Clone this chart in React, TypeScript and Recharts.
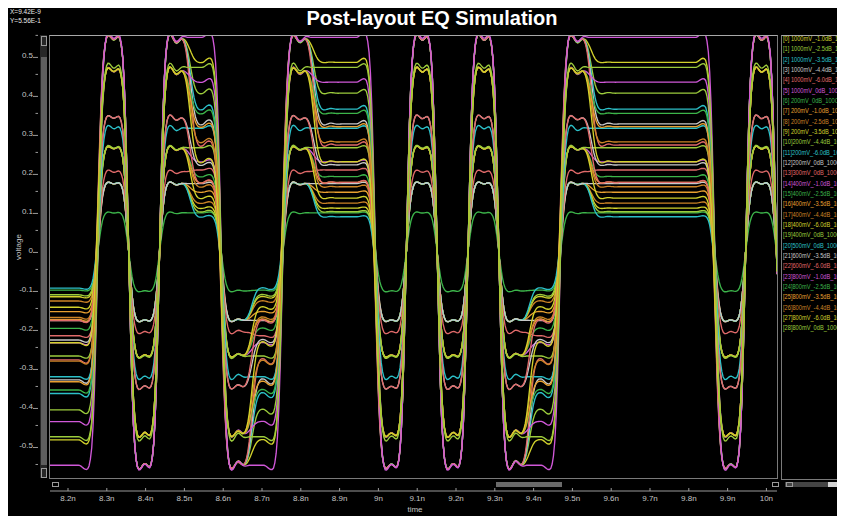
import React from 'react';
import { LineChart, Line, XAxis, YAxis } from 'recharts';

// ---------- data ----------
const SERIES_LABELS = [
  '[0] 1000mV_-1.0dB_100Ohm', '[1] 1000mV_-2.5dB_100Ohm', '[2] 1000mV_-3.5dB_100Ohm',
  '[3] 1000mV_-4.4dB_100Ohm', '[4] 1000mV_-6.0dB_100Ohm', '[5] 1000mV_0dB_100Ohm',
  '[6] 200mV_0dB_100Ohm', '[7] 200mV_-1.0dB_100Ohm', '[8] 200mV_-2.5dB_100Ohm',
  '[9] 200mV_-3.5dB_100Ohm', '[10]200mV_-4.4dB_100Ohm', '[11]200mV_-6.0dB_100Ohm',
  '[12]200mV_0dB_100Ohm', '[13]300mV_0dB_100Ohm', '[14]400mV_-1.0dB_100Ohm',
  '[15]400mV_-2.5dB_100Ohm', '[16]400mV_-3.5dB_100Ohm', '[17]400mV_-4.4dB_100Ohm',
  '[18]400mV_-6.0dB_100Ohm', '[19]400mV_0dB_100Ohm', '[20]500mV_0dB_100Ohm',
  '[21]600mV_-3.5dB_100Ohm', '[22]600mV_-6.0dB_100Ohm', '[23]800mV_-1.0dB_100Ohm',
  '[24]800mV_-2.5dB_100Ohm', '[25]800mV_-3.5dB_100Ohm', '[26]800mV_-4.4dB_100Ohm',
  '[27]800mV_-6.0dB_100Ohm', '[28]800mV_0dB_100Ohm',
];

// the part of each legend entry that is visible in the legend panel
const LEGEND_TEXT = [
  '[0] 1000mV_-1.0dB_100', '[1] 1000mV_-2.5dB_100', '[2] 1000mV_-3.5dB_100',
  '[3] 1000mV_-4.4dB_100', '[4] 1000mV_-6.0dB_100', '[5] 1000mV_0dB_100O',
  '[6] 200mV_0dB_100Oh', '[7] 200mV_-1.0dB_100', '[8] 200mV_-2.5dB_100',
  '[9] 200mV_-3.5dB_100', '[10]200mV_-4.4dB_100', '[11]200mV_-6.0dB_100',
  '[12]200mV_0dB_100Oh', '[13]300mV_0dB_100Oh', '[14]400mV_-1.0dB_100',
  '[15]400mV_-2.5dB_100', '[16]400mV_-3.5dB_100', '[17]400mV_-4.4dB_100',
  '[18]400mV_-6.0dB_100', '[19]400mV_0dB_100Oh', '[20]500mV_0dB_100Oh',
  '[21]600mV_-3.5dB_100', '[22]600mV_-6.0dB_100', '[23]800mV_-1.0dB_100',
  '[24]800mV_-2.5dB_100', '[25]800mV_-3.5dB_100', '[26]800mV_-4.4dB_100',
  '[27]800mV_-6.0dB_100', '[28]800mV_0dB_100Oh',
];

// level (V) in the first UI after a rising transition
const HIGH_PEAK = [
  0.54, 0.54, 0.54, 0.54, 0.54, 0.545,
  0.095, 0.17, 0.17, 0.17, 0.17, 0.17, 0.17,
  0.2, 0.26, 0.26, 0.26, 0.26, 0.26, 0.262,
  0.312, 0.338, 0.338,
  0.458, 0.458, 0.458, 0.458, 0.458, 0.468,
];
// settled high level
const HIGH_STEADY = [
  0.481, 0.402, 0.361, 0.323, 0.269, 0.545,
  0.095, 0.148, 0.12, 0.107, 0.098, 0.085, 0.17,
  0.205, 0.226, 0.188, 0.173, 0.162, 0.133, 0.262,
  0.312, 0.218, 0.173,
  0.43, 0.35, 0.316, 0.277, 0.226, 0.468,
];
// level in the first UI after a falling transition
const LOW_PEAK = [
  -0.55, -0.55, -0.55, -0.55, -0.55, -0.552,
  -0.105, -0.18, -0.18, -0.18, -0.18, -0.18, -0.18,
  -0.21, -0.27, -0.27, -0.27, -0.27, -0.27, -0.272,
  -0.325, -0.35, -0.35,
  -0.47, -0.47, -0.47, -0.47, -0.47, -0.479,
];
// settled low level
const LOW_STEADY = [
  -0.487, -0.41, -0.368, -0.333, -0.282, -0.552,
  -0.103, -0.158, -0.131, -0.12, -0.115, -0.098, -0.181,
  -0.22, -0.238, -0.201, -0.178, -0.173, -0.147, -0.272,
  -0.325, -0.231, -0.181,
  -0.44, -0.359, -0.338, -0.285, -0.238, -0.479,
];

// bit pattern, one entry per unit interval, starting two UIs before the first edge
const BITS = [0, 0, 1, 0, 1, 1, 0, 0, 1, 1, 1, 0, 1, 0, 1, 0, 0, 1, 1, 1, 1, 1, 0, 1, 0];
const FIRST_EDGE_NS = 8.277;
const UI_NS = 0.0795;

// normalized edge response sampled every 0.05 UI from -0.6 UI to +1.0 UI
const STEP_START = -0.6;
const STEP_DU = 0.05;
const STEP_SHAPE = [
  0, -0.002, -0.005, -0.008, -0.01, -0.01, -0.006, 0.01, 0.04, 0.1, 0.2, 0.34,
  0.5, 0.66, 0.8, 0.9, 0.96, 0.995, 1.01, 1.012, 1.008, 1.0, 0.993, 0.99, 0.992,
  0.996, 1.0, 1.002, 1.002, 1.001, 1.0, 1.0, 1.0,
];

const TIME_TICKS = [8.2, 8.3, 8.4, 8.5, 8.6, 8.7, 8.8, 8.9, 9.0, 9.1, 9.2, 9.3, 9.4, 9.5, 9.6, 9.7, 9.8, 9.9, 10.0];
const VOLT_TICKS = [
  -0.55, -0.5, -0.45, -0.4, -0.35, -0.3, -0.25, -0.2, -0.15, -0.1, -0.05, 0,
  0.05, 0.1, 0.15, 0.2, 0.25, 0.3, 0.35, 0.4, 0.45, 0.5, 0.55,
];

const PALETTE = ['#d2d22c', '#9ccc3c', '#2cc0c8', '#c8c8c8', '#e06a6a', '#d058d8', '#3cb44a', '#e8a030', '#cc8426'];

const T_MIN = 8.1536;
const T_MAX = 10.0273;
const V_MIN = -0.618;
const V_MAX = 0.551;

// ---------- build the table the library needs ----------
function stepResponse(u: number): number {
  const idx = (u - STEP_START) / STEP_DU;
  if (idx <= 0) return STEP_SHAPE[0];
  if (idx >= STEP_SHAPE.length - 1) return STEP_SHAPE[STEP_SHAPE.length - 1];
  const i = Math.floor(idx);
  const f = idx - i;
  return STEP_SHAPE[i] * (1 - f) + STEP_SHAPE[i + 1] * f;
}

function levelOf(i: number, s: number): number {
  const b = BITS[i];
  const changed = i > 0 && BITS[i - 1] !== b;
  if (b) return changed ? HIGH_PEAK[s] : HIGH_STEADY[s];
  return changed ? LOW_PEAK[s] : LOW_STEADY[s];
}

function buildRows() {
  const rows: any[] = [];
  const n = 540;
  for (let k = 0; k <= n; k++) {
    const t = T_MIN + ((T_MAX - T_MIN) * k) / n;
    const row: any = { t };
    for (let s = 0; s < SERIES_LABELS.length; s++) {
      let v = levelOf(0, s);
      for (let i = 1; i < BITS.length; i++) {
        const d = levelOf(i, s) - levelOf(i - 1, s);
        if (d === 0) continue;
        const edge = FIRST_EDGE_NS + (i - 2) * UI_NS;
        v += d * stepResponse((t - edge) / UI_NS);
      }
      row['s' + s] = Math.round(v * 10000) / 10000;
    }
    rows.push(row);
  }
  return rows;
}

const ROWS = buildRows();

const FONT = '"Liberation Sans", Arial, sans-serif';
const AXIS_TEXT = '#c4c4c4';

function TimeTick(props: any) {
  const { x, payload } = props;
  const v = payload.value as number;
  const label = (Math.abs(v - Math.round(v)) < 1e-6 ? String(Math.round(v)) : v.toFixed(1)) + 'n';
  return (
    <g>
      <line x1={x} x2={x} y1={488} y2={491} stroke="#9a9a9a" strokeWidth={1} />
      <text x={x} y={501} textAnchor="middle" fill={AXIS_TEXT} fontSize={8} fontFamily={FONT}>
        {label}
      </text>
    </g>
  );
}

function VoltTick(props: any) {
  const { y, payload } = props;
  const v = payload.value as number;
  const major = Math.abs(v * 10 - Math.round(v * 10)) < 1e-6;
  if (!major) {
    return <line x1={35.5} x2={38} y1={y} y2={y} stroke="#9a9a9a" strokeWidth={1} />;
  }
  const label = Math.abs(v) < 1e-9 ? '0' : v.toFixed(1);
  return (
    <g>
      <text x={33} y={y + 3} textAnchor="end" fill={AXIS_TEXT} fontSize={8} fontFamily={FONT}>
        {label}
      </text>
      <line x1={33} x2={38} y1={y + 2.5} y2={y + 2.5} stroke="#9a9a9a" strokeWidth={1} />
    </g>
  );
}

export default function App() {
  const abs = (s: any): any => ({ position: 'absolute', ...s });
  return (
    <div
      style={{
        position: 'relative',
        width: 845,
        height: 516,
        marginLeft: -8,
        marginTop: -8,
        background: '#e2e2e2',
        overflow: 'hidden',
        fontFamily: FONT,
      }}
    >
      <div style={abs({ left: 7, top: 5, width: 838, height: 511, background: '#000', borderLeft: '1px solid #10123a' })} />

      <div style={abs({ left: 0, top: 0 })}>
        <LineChart width={845} height={516} data={ROWS} margin={{ top: 35, right: 68, bottom: 0, left: 0 }}>
          <XAxis
            dataKey="t"
            type="number"
            domain={[T_MIN, T_MAX]}
            allowDataOverflow
            ticks={TIME_TICKS}
            interval={0}
            height={25}
            tickLine={false}
            axisLine={{ stroke: '#9a9a9a' }}
            tick={<TimeTick />}
          />
          <YAxis
            type="number"
            domain={[V_MIN, V_MAX]}
            allowDataOverflow
            ticks={VOLT_TICKS}
            interval={0}
            width={50}
            tickLine={false}
            axisLine={false}
            tick={<VoltTick />}
          />
          {SERIES_LABELS.map((name, s) => (
            <Line
              key={name}
              dataKey={'s' + s}
              name={name}
              type="linear"
              dot={false}
              activeDot={false}
              stroke={PALETTE[s % PALETTE.length]}
              strokeWidth={1.35}
              isAnimationActive={false}
            />
          ))}
        </LineChart>
      </div>

      {/* title and cursor readout */}
      <div style={abs({ left: 232, top: 7, width: 400, textAlign: 'center', color: '#fff', fontSize: 20, lineHeight: '22px', fontWeight: 'bold' })}>
        Post-layout EQ Simulation
      </div>
      <div style={abs({ left: 10, top: 8, color: '#e8e8e8', fontSize: 6.5, lineHeight: '8px' })}>X=9.42E-9</div>
      <div style={abs({ left: 10, top: 17, color: '#e8e8e8', fontSize: 6.5, lineHeight: '8px' })}>Y=5.56E-1</div>

      {/* axis titles */}
      <div style={abs({ left: 18, top: 247, color: AXIS_TEXT, fontSize: 8, lineHeight: '9px', transform: 'translate(-50%,-50%) rotate(-90deg)', whiteSpace: 'nowrap' })}>
        voltage
      </div>
      <div style={abs({ left: 400, top: 505, width: 30, textAlign: 'center', color: AXIS_TEXT, fontSize: 8, lineHeight: '9px' })}>time</div>

      {/* plot frame */}
      <div style={abs({ left: 49, top: 35, width: 727, height: 442, border: '1px solid #7a7a7a', borderTopColor: '#a8a8a8' })} />

      {/* vertical scrollbar */}
      <div style={abs({ left: 40, top: 35, width: 7, height: 443, background: '#262626' })} />
      <div style={abs({ left: 41, top: 36, width: 4, height: 8, border: '1px solid #9a9a9a' })} />
      <div style={abs({ left: 41, top: 57, width: 6, height: 408, background: '#5e5e5e' })} />
      <div style={abs({ left: 41, top: 468, width: 4, height: 8, border: '1px solid #9a9a9a' })} />

      {/* horizontal scrollbar */}
      <div style={abs({ left: 52, top: 482, width: 5, height: 3, border: '1px solid #9a9a9a' })} />
      <div style={abs({ left: 496, top: 482, width: 66, height: 5, background: '#6a6a6a' })} />
      <div style={abs({ left: 772, top: 482, width: 5, height: 3, border: '1px solid #9a9a9a' })} />

      {/* legend panel */}
      <div style={abs({ left: 781, top: 35, width: 70, height: 443, border: '1px solid #7a7a7a', borderTopColor: '#a8a8a8' })} />
      <div style={abs({ left: 783, top: 34, width: 72, transform: 'scaleX(0.86)', transformOrigin: '0 0' })}>
        {LEGEND_TEXT.map((text, s) => (
          <div
            key={SERIES_LABELS[s]}
            style={{ height: 10.33, lineHeight: '10.33px', fontSize: 6.6, whiteSpace: 'nowrap', color: PALETTE[s % PALETTE.length] }}
          >
            {text}
          </div>
        ))}
      </div>
      <div style={abs({ left: 785, top: 482, width: 43, height: 5, background: '#444' })} />
      <div style={abs({ left: 786, top: 482, width: 5, height: 3, border: '1px solid #9a9a9a' })} />
      <div style={abs({ left: 828, top: 482, width: 17, height: 5, background: '#d4d4d4' })} />
    </div>
  );
}
